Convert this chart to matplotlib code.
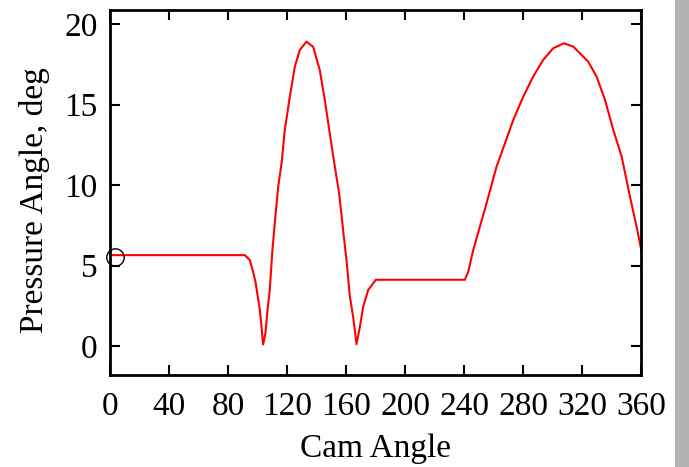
import numpy as np
import matplotlib.pyplot as plt
from matplotlib.patches import Rectangle

plt.rcParams['font.family'] = ['Liberation Serif', 'DejaVu Serif']

# cam angle (deg) and pressure angle (deg)
cam_angle = [0, 91.2, 94.6, 96.8, 98.4, 99.8, 101.4, 102.5, 103.6,
             105.2, 106.6, 108.1, 109.9, 111.9, 113.8, 116.1, 118.3, 121.7,
             125.1, 128.5, 133.0, 137.5, 142.0, 145.4, 148.8, 152.2, 155.1,
             157.8, 160.1, 162.4, 164.6, 166.9, 169.2, 171.4, 174.8, 180.0,
             240.3, 242.6, 246.0, 250.5, 255.0, 261.8, 267.5, 273.1, 279.9,
             286.6, 293.4, 300.2, 307.5, 313.8, 323.9, 329.6, 335.3, 340.9,
             346.6, 352.2, 356.7, 360.0]
pressure_angle = [5.65, 5.65, 5.35, 4.62, 4.0, 3.17, 2.24, 1.2, 0.1,
                  0.79, 2.24, 3.48, 5.97, 8.04, 9.9, 11.36, 13.43, 15.5,
                  17.37, 18.41, 18.92, 18.6, 17.16, 15.3, 13.2, 11.15, 9.5,
                  7.2, 5.35, 3.07, 1.82, 0.12, 1.2, 2.44, 3.48, 4.12,
                  4.12, 4.62, 5.97, 7.42, 8.87, 11.15, 12.6, 14.05, 15.5,
                  16.75, 17.79, 18.51, 18.82, 18.61, 17.68, 16.75, 15.3, 13.43,
                  11.77, 9.29, 7.42, 5.9]
# current position marker
marker_x = 3.5
marker_y = 5.55
xticks = [0, 40, 80, 120, 160, 200, 240, 280, 320, 360]
yticks = [0, 5, 10, 15, 20]

fig = plt.figure(figsize=(6.89, 4.67), dpi=100)
ax = fig.add_axes([0.16, 0.197, 0.771, 0.782])

ax.plot(cam_angle, pressure_angle, color='red', linewidth=1.5)
ax.plot(marker_x, marker_y, 'o', markersize=12.5,
        markerfacecolor='none', markeredgecolor='black', markeredgewidth=1.0,
        clip_on=False)

ax.set_xlim(0, 360)
ax.set_ylim(-1.8, 20.9)
ax.set_xticks(xticks)
ax.set_yticks(yticks)
ax.tick_params(direction='in', top=True, right=True, length=7, width=1.5,
               labelsize=24)
ax.tick_params(axis='x', pad=12)
ax.tick_params(axis='y', pad=9)
for s in ax.spines.values():
    s.set_linewidth(2)

ax.set_xlabel('Cam Angle', fontsize=24, labelpad=8)
ax.set_ylabel('Pressure Angle, deg', fontsize=24)
ax.yaxis.set_label_coords(-0.113, 0.48)

# grey strip at the right edge
fig.patches.append(Rectangle((675 / 689, 0), 14 / 689, 1, transform=fig.transFigure,
                             facecolor='#b3b3b3', edgecolor='none'))

fig.savefig('out.png', dpi=100)
